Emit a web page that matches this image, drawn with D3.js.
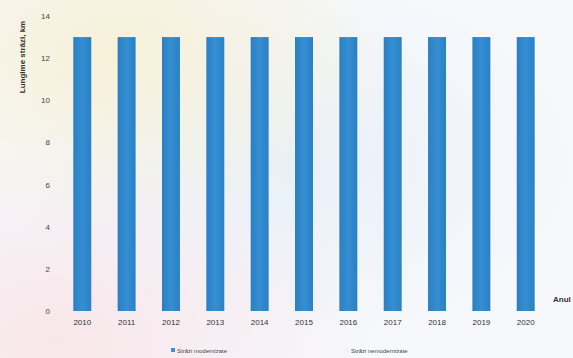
<!DOCTYPE html>
<html>
<head>
<meta charset="utf-8">
<script src="https://cdn.jsdelivr.net/npm/d3@7"></script>
<style>
  html, body { margin: 0; padding: 0; background: #f6f8fb; }
  svg { display: block; font-family: "Liberation Sans", "DejaVu Sans", sans-serif; }
</style>
</head>
<body>
<svg id="chart" width="573" height="358"></svg>
<script>
// Street length by year (km)
const years = ["2010","2011","2012","2013","2014","2015","2016","2017","2018","2019","2020"];
const modernizate = [13,13,13,13,13,13,13,13,13,13,13];
const nemodernizate = [0,0,0,0,0,0,0,0,0,0,0];
const yTicks = [0,2,4,6,8,10,12,14];
const seriesNames = ["Străzi modernizate", "Străzi nemodernizate"];

const svg = d3.select("#chart");
const W = 573, H = 358;

// soft background tint
const defs = svg.append("defs");
const g1 = defs.append("radialGradient").attr("id","tintA").attr("cx","0.2").attr("cy","0.15").attr("r","0.5");
g1.append("stop").attr("offset","0").attr("stop-color","#f7f1d8");
g1.append("stop").attr("offset","1").attr("stop-color","#f7f1d8").attr("stop-opacity",0);
const g2 = defs.append("radialGradient").attr("id","tintB").attr("cx","0.1").attr("cy","0.95").attr("r","0.55");
g2.append("stop").attr("offset","0").attr("stop-color","#f8e6ea");
g2.append("stop").attr("offset","1").attr("stop-color","#f8e6ea").attr("stop-opacity",0);
const g3 = defs.append("radialGradient").attr("id","tintC").attr("cx","0.5").attr("cy","0.45").attr("r","0.5");
g3.append("stop").attr("offset","0").attr("stop-color","#e8f0f8");
g3.append("stop").attr("offset","1").attr("stop-color","#e8f0f8").attr("stop-opacity",0);
const barGrad = defs.append("linearGradient").attr("id","barGrad").attr("x1","0").attr("x2","1");
barGrad.append("stop").attr("offset","0").attr("stop-color","#2a7fc2");
barGrad.append("stop").attr("offset","0.5").attr("stop-color","#358fd2");
barGrad.append("stop").attr("offset","1").attr("stop-color","#2a80c4");

svg.append("rect").attr("width",W).attr("height",H).attr("fill","#f6f8fb");
svg.append("rect").attr("width",W).attr("height",H).attr("fill","url(#tintC)");
svg.append("rect").attr("width",W).attr("height",H).attr("fill","url(#tintA)");
svg.append("rect").attr("width",W).attr("height",H).attr("fill","url(#tintB)");

const x = d3.scaleBand().domain(years).range([60, 548]).paddingInner(0.595).paddingOuter(0.3);
const y = d3.scaleLinear().domain([0,14]).range([311, 16]);

const stacked = years.map((yr,i) => ({ year: yr, a: modernizate[i], b: nemodernizate[i] }));

// bars
svg.append("g").selectAll("rect.m").data(stacked).join("rect")
  .attr("class","m")
  .attr("x", d => x(d.year))
  .attr("width", x.bandwidth())
  .attr("y", d => y(d.a))
  .attr("height", d => y(0) - y(d.a))
  .attr("fill", "url(#barGrad)");

svg.append("g").selectAll("rect.n").data(stacked).join("rect")
  .attr("class","n")
  .attr("x", d => x(d.year))
  .attr("width", x.bandwidth())
  .attr("y", d => y(d.a + d.b))
  .attr("height", d => y(d.a) - y(d.a + d.b))
  .attr("fill", "#e8eef5");

// y axis (labels only)
const yAxis = d3.axisLeft(y).tickValues(yTicks).tickSize(0).tickPadding(0);
const ya = svg.append("g").attr("transform","translate(50,0)").call(yAxis);
ya.select(".domain").remove();
ya.selectAll("text").attr("font-size", 8).attr("fill","#444");

// x axis (labels only)
const xAxis = d3.axisBottom(x).tickSize(0).tickPadding(0);
const xa = svg.append("g").attr("transform","translate(0,319)").call(xAxis);
xa.select(".domain").remove();
xa.selectAll("text").attr("font-size", 8).attr("fill","#333");

// axis titles
svg.append("text")
  .attr("transform","translate(25,57) rotate(-90)")
  .attr("text-anchor","middle")
  .attr("font-size", 8).attr("font-weight","bold").attr("fill","#333")
  .text("Lungime străzi, km");

svg.append("text")
  .attr("x", 553).attr("y", 302)
  .attr("font-size", 8).attr("font-weight","bold").attr("fill","#333")
  .text("Anul");

// legend
const legendX = [171, 345];
const leg = svg.append("g");
seriesNames.forEach((name, i) => {
  const gx = legendX[i];
  leg.append("rect").attr("x", gx).attr("y", 348).attr("width", 4).attr("height", 4)
    .attr("fill", i === 0 ? "#3a8fd0" : "#eef2f6");
  leg.append("text").attr("x", gx + 6).attr("y", 352.5)
    .attr("font-size", 6).attr("fill","#444").text(name);
});
</script>
</body>
</html>
